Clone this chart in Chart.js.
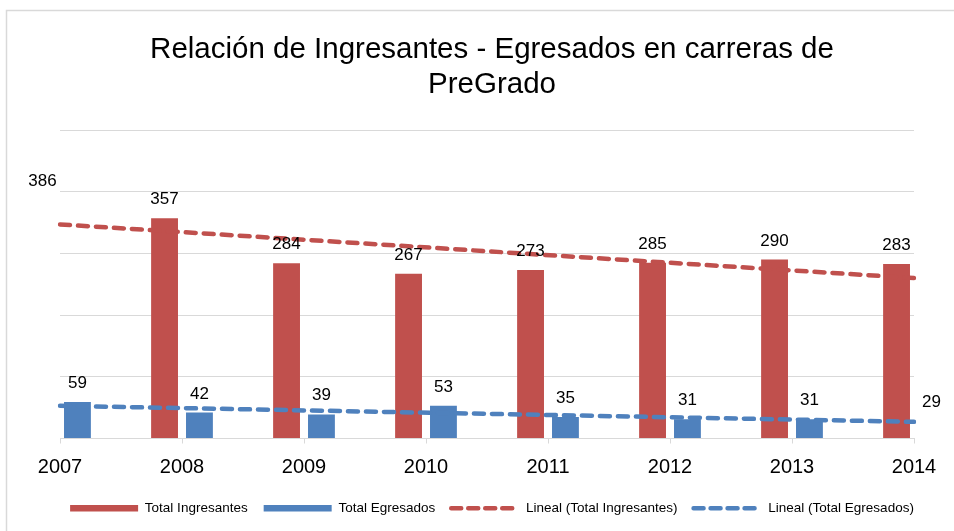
<!DOCTYPE html>
<html>
<head>
<meta charset="utf-8">
<script src="https://cdn.jsdelivr.net/npm/chart.js@4"></script>
<style>
  html, body { margin: 0; padding: 0; background: #fff; }
  #wrap { width: 954px; height: 531px; }
</style>
</head>
<body>
<div id="wrap"><canvas id="chart" width="954" height="531"></canvas></div>
<script>
// Data
const years = ["2007", "2008", "2009", "2010", "2011", "2012", "2013", "2014"];
const ingresantes = [386, 357, 284, 267, 273, 285, 290, 283];
const egresados = [59, 42, 39, 53, 35, 31, 31, 29];
// Trend lines (endpoints)
const trendIngresantes = [347, null, null, null, null, null, null, 260];
const trendEgresados = [53, null, null, null, null, null, null, 27];

const red = "#C0504D";
const blue = "#4F81BD";
const fontFamily = "'Liberation Sans', Arial, sans-serif";

// White background plus the thin frame (top and left edges only are visible)
const framePlugin = {
  id: "frame",
  beforeDraw(chart) {
    const ctx = chart.ctx;
    ctx.save();
    ctx.fillStyle = "#fff";
    ctx.fillRect(0, 0, chart.width, chart.height);
    ctx.strokeStyle = "#d9d9d9";
    ctx.lineWidth = 1.5;
    ctx.beginPath();
    ctx.moveTo(6.5, chart.height);
    ctx.lineTo(6.5, 10.5);
    ctx.lineTo(chart.width, 10.5);
    ctx.stroke();
    ctx.restore();
  },
};

// Value labels above every bar (also the ones clipped at the edges)
const barLabels = {
  id: "barLabels",
  afterDatasetsDraw(chart) {
    const ctx = chart.ctx;
    ctx.save();
    ctx.font = "17px " + fontFamily;
    ctx.fillStyle = "#000";
    ctx.textAlign = "center";
    ctx.textBaseline = "alphabetic";
    chart.data.datasets.forEach((ds, i) => {
      if (ds.type !== "bar") return;
      chart.getDatasetMeta(i).data.forEach((el, j) => {
        ctx.fillText(ds.data[j], el.x, el.y - 14);
      });
    });
    ctx.restore();
  },
};

new Chart(document.getElementById("chart"), {
  data: {
    labels: years,
    datasets: [
      {
        type: "bar",
        label: "Total Ingresantes",
        data: ingresantes,
        backgroundColor: red,
        categoryPercentage: 0.572,
        barPercentage: 0.77,
        clip: 0,
        order: 2,
      },
      {
        type: "bar",
        label: "Total Egresados",
        data: egresados,
        backgroundColor: blue,
        categoryPercentage: 0.572,
        barPercentage: 0.77,
        clip: 0,
        order: 2,
      },
      {
        type: "line",
        label: "Lineal (Total Ingresantes)",
        data: trendIngresantes,
        borderColor: red,
        borderWidth: 4.5,
        borderDash: [10, 8],
        borderCapStyle: "round",
        pointRadius: 0,
        spanGaps: true,
        order: 1,
      },
      {
        type: "line",
        label: "Lineal (Total Egresados)",
        data: trendEgresados,
        borderColor: blue,
        borderWidth: 4.5,
        borderDash: [10, 8],
        borderCapStyle: "round",
        pointRadius: 0,
        spanGaps: true,
        order: 1,
      },
    ],
  },
  options: {
    responsive: false,
    animation: false,
    layout: {
      padding: { left: 30, right: 0, top: 22, bottom: 6 },
    },
    plugins: {
      title: {
        display: true,
        text: ["Relación de Ingresantes - Egresados en carreras de", "PreGrado"],
        color: "#000",
        font: { family: fontFamily, size: 29.5, weight: "normal", lineHeight: 35 / 29.5 },
        padding: { top: 10, bottom: 28 },
      },
      legend: {
        position: "bottom",
        labels: {
          color: "#000",
          font: { family: fontFamily, size: 13.5 },
          usePointStyle: true,
          pointStyleWidth: 68,
          padding: 16,
          generateLabels(chart) {
            return chart.data.datasets.map((ds, i) => ({
              text: ds.label,
              pointStyle: "line",
              strokeStyle: ds.type === "bar" ? ds.backgroundColor : ds.borderColor,
              fillStyle: ds.type === "bar" ? ds.backgroundColor : ds.borderColor,
              lineWidth: ds.type === "bar" ? 6.5 : 4.5,
              lineDash: ds.type === "bar" ? [] : [10, 7],
              lineCap: ds.type === "bar" ? "butt" : "round",
              datasetIndex: i,
              hidden: false,
              fontColor: "#000",
            }));
          },
        },
      },
      tooltip: { enabled: false },
    },
    scales: {
      x: {
        offset: false,
        grid: {
          offset: false,
          drawOnChartArea: false,
          drawTicks: true,
          tickLength: 5,
          color: "#d9d9d9",
        },
        border: { color: "#d9d9d9", width: 1 },
        ticks: {
          color: "#000",
          font: { family: fontFamily, size: 20 },
          padding: 12,
          maxRotation: 0,
        },
        afterFit(scale) {
          scale.height -= 6;
        },
      },
      y: {
        display: true,
        min: 0,
        max: 500,
        ticks: { display: false, stepSize: 100 },
        grid: { color: "#d9d9d9", drawTicks: false },
        border: { display: false },
        afterFit(scale) {
          scale.width = 30;
        },
      },
      // empty axis on the right, only to keep the plot clear of the right edge
      yRight: {
        position: "right",
        display: true,
        ticks: { display: false },
        grid: { display: false },
        border: { display: false },
        afterFit(scale) {
          scale.width = 40;
        },
      },
    },
  },
  plugins: [framePlugin, barLabels],
});
</script>
</body>
</html>
